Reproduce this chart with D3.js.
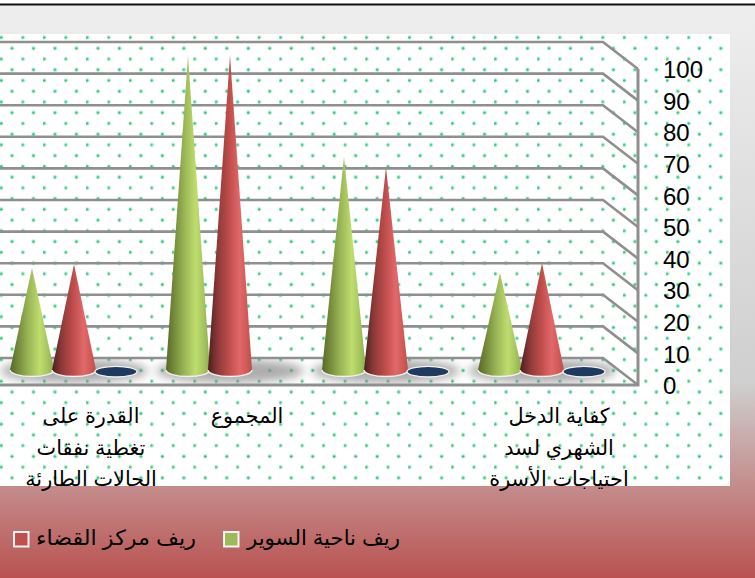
<!DOCTYPE html>
<html lang="ar">
<head>
  <meta charset="UTF-8">
  <script src="https://d3js.org/d3.v7.min.js"></script>
  <title>Cone chart</title>
  <style>
    html, body { margin: 0; padding: 0; background: #fff; overflow: hidden; }
    text { font-family: "Liberation Sans", "DejaVu Sans", sans-serif; fill: #000; }
    .tick text { font-size: 24px; }
    .cat { font-size: 20.8px; }
    .leg { font-size: 21px; }
  </style>
</head>
<body>
<div id="chart"></div>
<script>
  // values
  const categories = ["القدرة على|تغطية نفقات|الحالات الطارئة", "المجموع", "", "كفاية الدخل|الشهري لسد|احتياجات الأسرة"];
  const seriesNames = ["ريف ناحية السوير", "ريف مركز القضاء", ""];
  const seriesGreen = [32.3, 99.5, 67.5, 30.7];
  const seriesRed = [33.5, 99.5, 64.2, 33.9];
  const seriesBlue = [0, null, 0, 0];
  const yTicks = [0, 10, 20, 30, 40, 50, 60, 70, 80, 90, 100];

  const width = 755, height = 578;
  const svg = d3.select("#chart").append("svg")
    .attr("width", width).attr("height", height)
    .style("display", "block");
  const defs = svg.append("defs");

  // background
  const bg = defs.append("linearGradient").attr("id", "bg")
    .attr("x1", 0).attr("x2", 0).attr("y1", 0).attr("y2", 1);
  [[0, "#eeeeee"], [0.66, "#cfcfcf"], [1, "#b95250"]].forEach(s =>
    bg.append("stop").attr("offset", s[0]).attr("stop-color", s[1]));
  svg.append("rect").attr("y", 5).attr("width", width).attr("height", height - 5).attr("fill", "url(#bg)");
  svg.append("rect").attr("y", 3.5).attr("width", width).attr("height", 2).attr("fill", "#111");

  // dotted panel
  const dots = defs.append("pattern").attr("id", "dots")
    .attr("patternUnits", "userSpaceOnUse").attr("width", 21.48).attr("height", 21.48);
  dots.append("rect").attr("width", 21.48).attr("height", 21.48).attr("fill", "#fff");
  [[12, 5.3], [1.3, 16]].forEach(p => {
    dots.append("circle").attr("cx", p[0]).attr("cy", p[1]).attr("r", 2.3).attr("fill", "#2fc97e").attr("opacity", 0.25);
    dots.append("circle").attr("cx", p[0]).attr("cy", p[1]).attr("r", 1.2).attr("fill", "#1fbf70");
  });
  svg.append("rect").attr("y", 34).attr("width", 730).attr("height", 452).attr("fill", "url(#dots)");

  // scales
  const yBack = d3.scaleLinear().domain([0, 100]).range([358, 42]);
  const yFront = d3.scaleLinear().domain([0, 100]).range([385, 69]);
  const yCone = d3.scaleLinear().domain([0, 100]).range([370, 54]);
  const xCat = d3.scaleBand().domain(d3.range(categories.length)).range([13, 637]);
  const xSeries = d3.scalePoint().domain(d3.range(seriesNames.length)).range([-42, 42]);
  const depth = -17; // cones sit behind the labels
  const backX = 603;
  const groupX = i => xCat(i) + xCat.bandwidth() / 2 + depth;

  // floor shadows
  const blur = defs.append("filter").attr("id", "blur")
    .attr("x", "-30%").attr("y", "-100%").attr("width", "160%").attr("height", "300%");
  blur.append("feGaussianBlur").attr("stdDeviation", 5);
  defs.append("clipPath").attr("id", "floor").append("path")
    .attr("d", `M0,${yBack(0)}L${backX},${yBack(0)}L638,385L0,385Z`);
  const shadows = svg.append("g").attr("clip-path", "url(#floor)");
  categories.forEach((c, i) => {
    shadows.append("ellipse")
      .attr("cx", groupX(i))
      .attr("cy", yCone(0) + 1)
      .attr("rx", 74).attr("ry", 12)
      .attr("fill", "#8a8a8a").attr("opacity", 0.7)
      .attr("filter", "url(#blur)");
  });

  // walls
  const grid = svg.append("g").attr("fill", "none").attr("stroke", "#8f8f8f").attr("stroke-width", 2.6);
  yTicks.forEach(v => {
    grid.append("path").attr("d", `M0,${yBack(v)}L${backX},${yBack(v)}L638,${yFront(v)}`);
  });
  grid.append("path").attr("d", `M0,${yFront(0)}L638,${yFront(0)}L638,${yFront(100)}`).attr("stroke-width", 3);

  // cone shading
  function coneGrad(id, stops) {
    const g = defs.append("linearGradient").attr("id", id)
      .attr("x1", 0).attr("x2", 1).attr("y1", 0).attr("y2", 0);
    stops.forEach(s => g.append("stop").attr("offset", s[0]).attr("stop-color", s[1]));
  }
  coneGrad("coneGreen", [[0, "#56692a"], [0.18, "#74893a"], [0.42, "#9ab656"], [0.68, "#bfdd6e"], [0.85, "#a6c65f"], [1, "#90aa50"]]);
  coneGrad("coneRed", [[0, "#4b1f1e"], [0.22, "#8c3938"], [0.5, "#c24f4d"], [0.72, "#e2686a"], [0.88, "#d05a58"], [1, "#bb4e4c"]]);

  const rx = 22, ry = 6.5;
  const baseArc = cx => `M${cx - rx},${yCone(0)}A${rx},${ry} 0 0 0 ${cx + rx},${yCone(0)}`;
  const conePath = (cx, v) => `${baseArc(cx)}L${cx},${yCone(v)}Z`;

  const layer = svg.append("g");
  [[seriesGreen, "url(#coneGreen)"], [seriesRed, "url(#coneRed)"]].forEach((vals, s) => {
    vals[0].forEach((d, i) => {
      const cx = groupX(i) + xSeries(s);
      layer.append("path").attr("d", conePath(cx, d)).attr("fill", vals[1]);
      layer.append("path").attr("d", baseArc(cx))
        .attr("fill", "none").attr("stroke", "#f1f1f1").attr("stroke-width", 1.4);
    });
  });
  seriesBlue.forEach((d, i) => {
    if (d === null) return;
    layer.append("ellipse")
      .attr("cx", groupX(i) + xSeries(2))
      .attr("cy", yCone(d) + 1.7)
      .attr("rx", 21).attr("ry", 5.3)
      .attr("fill", "#1f3a60").attr("stroke", "#f1f1f1").attr("stroke-width", 1.3);
  });

  // value axis
  const axis = svg.append("g").attr("transform", "translate(638,1)")
    .call(d3.axisRight(yFront).tickValues(yTicks).tickSize(0).tickPadding(25));
  axis.select(".domain").remove();
  axis.selectAll("text").attr("text-anchor", "start");
  axis.attr("font-family", null).attr("font-size", null);

  // category labels
  categories.forEach((c, i) => {
    const t = svg.append("text").attr("class", "cat").attr("text-anchor", "middle");
    c.split("|").forEach((line, k) => {
      t.append("tspan")
        .attr("x", xCat(i) + xCat.bandwidth() / 2)
        .attr("y", 423 + k * 31.5)
        .text(line);
    });
  });

  // legend
  const legendRight = [400, 196];
  const legendLength = [153, 160];
  const legendColors = ["#9bbb59", "#c0504d"];
  const legendSwatch = [224, 14];
  seriesNames.slice(0, 2).forEach((n, i) => {
    svg.append("text").attr("class", "leg").attr("text-anchor", "start")
      .attr("x", legendRight[i] - legendLength[i]).attr("y", 545)
      .attr("textLength", legendLength[i]).attr("lengthAdjust", "spacingAndGlyphs")
      .text(n);
    svg.append("rect").attr("x", legendSwatch[i]).attr("y", 532)
      .attr("width", 14.5).attr("height", 14.5)
      .attr("fill", legendColors[i]).attr("stroke", "#f4f4f4").attr("stroke-width", 2);
  });
</script>
</body>
</html>
